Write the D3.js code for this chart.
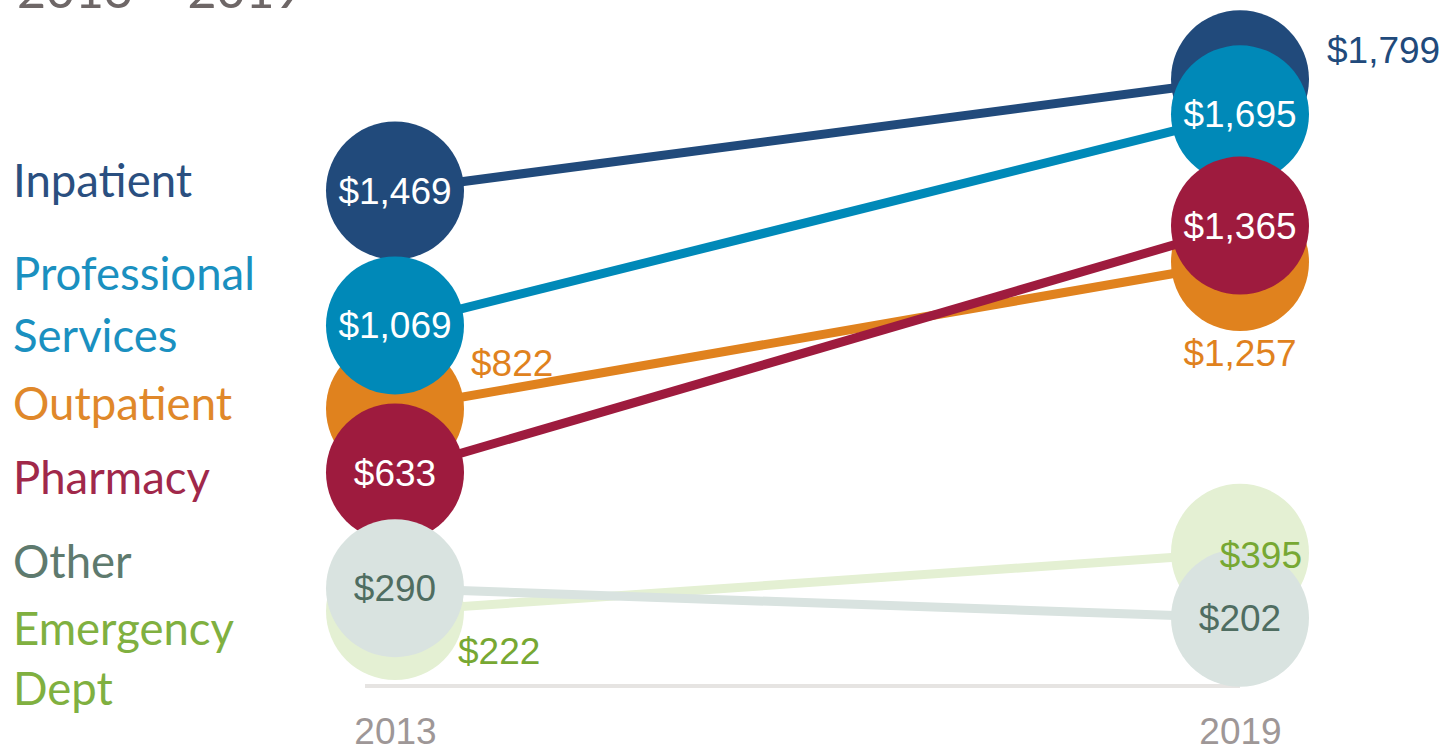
<!DOCTYPE html>
<html>
<head>
<meta charset="utf-8">
<script src="https://cdn.jsdelivr.net/npm/d3@7"></script>
<style>
  html, body { margin: 0; padding: 0; background: #fff; }
  svg { display: block; }
</style>
</head>
<body>
<svg id="chart" width="1447" height="751"></svg>
<script>
// ---- data ----
const years = ["2013", "2019"];
const categories = ["Inpatient", "Outpatient", "Professional Services", "Pharmacy", "Emergency Dept", "Other"];
const values2013 = [1469, 822, 1069, 633, 222, 290];
const values2019 = [1799, 1257, 1695, 1365, 395, 202];
const titleText = "2013 – 2019";

// ---- styles (kept separate from data) ----
const colors = {
  "Inpatient": {fill: "#214a7b", text: "#2a4f80", inner: "#ffffff"},
  "Professional Services": {fill: "#0089b8", text: "#1a90c0", inner: "#ffffff"},
  "Outpatient": {fill: "#e0821e", text: "#e0882a", inner: "#e0821e"},
  "Pharmacy": {fill: "#9e1b3e", text: "#a0284a", inner: "#ffffff"},
  "Other": {fill: "#d9e3e0", text: "#5e7a6e", inner: "#4f6d61"},
  "Emergency Dept": {fill: "#e4f0d3", text: "#80b040", inner: "#77a833"}
};
const labelPlace = {
  "Inpatient": [{mode: "in"}, {mode: "right", dx: 87, dy: -16}],
  "Professional Services": [{mode: "in"}, {mode: "in"}],
  "Outpatient": [{mode: "right", dx: 76, dy: -33}, {mode: "below", dx: 0, dy: 104}],
  "Pharmacy": [{mode: "in"}, {mode: "in"}],
  "Other": [{mode: "in"}, {mode: "in"}],
  "Emergency Dept": [{mode: "right", dx: 63, dy: 53}, {mode: "end", dx: 62, dy: 15}]
};
const leftLabels = [
  {cat: "Inpatient", lines: ["Inpatient"], y: [197]},
  {cat: "Professional Services", lines: ["Professional", "Services"], y: [290, 352]},
  {cat: "Outpatient", lines: ["Outpatient"], y: [420]},
  {cat: "Pharmacy", lines: ["Pharmacy"], y: [494]},
  {cat: "Other", lines: ["Other"], y: [578]},
  {cat: "Emergency Dept", lines: ["Emergency", "Dept"], y: [645, 705]}
];

const svg = d3.select("#chart");
const fmt = v => "$" + d3.format(",")(v);

const x = d3.scalePoint().domain(years).range([395, 1240]);
const y = d3.scaleLinear().domain([0, 1800]).range([686, 78.9]);
const r = 69;

// title (partially cut off at top)
svg.append("text")
  .attr("x", 17).attr("y", 8)
  .attr("font-family", "Lato, sans-serif")
  .attr("font-size", 50)
  .attr("fill", "#6e6767")
  .text(titleText);

// baseline
svg.append("line")
  .attr("x1", x("2013") - 30).attr("x2", x("2019"))
  .attr("y1", y(0)).attr("y2", y(0))
  .attr("stroke", "#e6e4e2").attr("stroke-width", 4);

// year labels
const xAxis = d3.axisBottom(x).tickSize(0).tickPadding(0);
const gx = svg.append("g").attr("transform", `translate(0, ${y(0) + 58})`).call(xAxis);
gx.select(".domain").remove();
gx.selectAll("text")
  .attr("font-family", "'Liberation Sans', Arial, sans-serif")
  .attr("font-size", 37)
  .attr("fill", "#9e9797")
  .attr("dy", 0);

const series = categories.map((c, i) => ({cat: c, vals: [values2013[i], values2019[i]]}));

const line = d3.line().x(d => x(d.year)).y(d => y(d.v));

const groups = svg.selectAll("g.series").data(series).enter().append("g").attr("class", "series");
groups.append("path")
  .attr("d", d => line(years.map((yr, j) => ({year: yr, v: d.vals[j]}))))
  .attr("fill", "none")
  .attr("stroke", d => colors[d.cat].fill)
  .attr("stroke-width", 9);
groups.selectAll("circle")
  .data(d => years.map((yr, j) => ({cat: d.cat, year: yr, v: d.vals[j]})))
  .enter().append("circle")
  .attr("cx", d => x(d.year)).attr("cy", d => y(d.v)).attr("r", r)
  .attr("fill", d => colors[d.cat].fill);

// value labels
const labels = [];
series.forEach(s => years.forEach((yr, j) => labels.push({cat: s.cat, year: yr, j, v: s.vals[j]})));
svg.selectAll("text.val").data(labels).enter().append("text")
  .attr("class", "val")
  .attr("font-family", "'Liberation Sans', Arial, sans-serif")
  .attr("font-size", 37)
  .each(function(d) {
    const p = labelPlace[d.cat][d.j];
    const cx = x(d.year), cy = y(d.v);
    const t = d3.select(this);
    if (p.mode === "in") {
      t.attr("x", cx).attr("y", cy + 13).attr("text-anchor", "middle").attr("fill", colors[d.cat].inner);
    } else if (p.mode === "below") {
      t.attr("x", cx + p.dx).attr("y", cy + p.dy).attr("text-anchor", "middle").attr("fill", colors[d.cat].inner);
    } else if (p.mode === "end") {
      t.attr("x", cx + p.dx).attr("y", cy + p.dy).attr("text-anchor", "end").attr("fill", colors[d.cat].inner);
    } else {
      t.attr("x", cx + p.dx).attr("y", cy + p.dy).attr("text-anchor", "start").attr("fill", d.cat === "Inpatient" ? colors[d.cat].fill : colors[d.cat].inner);
    }
  })
  .text(d => fmt(d.v));

// left category labels
leftLabels.forEach(l => {
  l.lines.forEach((ln, k) => {
    svg.append("text")
      .attr("x", 13).attr("y", l.y[k])
      .attr("font-family", "Lato, sans-serif")
      .attr("font-size", 45.5)
      .attr("fill", colors[l.cat].text)
      .text(ln);
  });
});
</script>
</body>
</html>
